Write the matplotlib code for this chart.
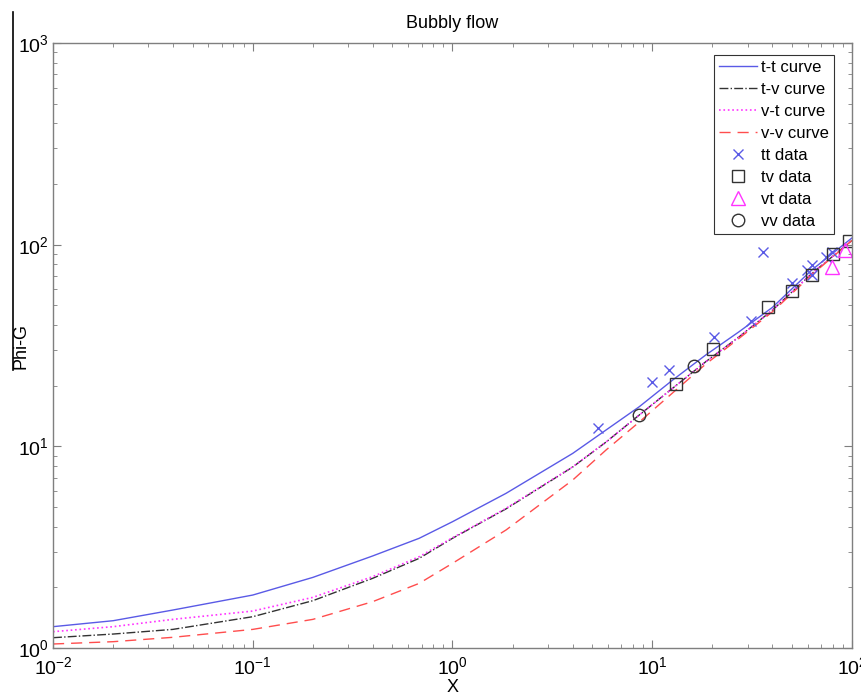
import matplotlib
matplotlib.use("Agg")
import matplotlib.pyplot as plt
from matplotlib.lines import Line2D

plt.rcParams["font.family"] = ["Liberation Sans", "DejaVu Sans"]
plt.rcParams["mathtext.fontset"] = "custom"
plt.rcParams["mathtext.rm"] = "Liberation Sans"

# Curves (X vs Phi-G)
x_curve = [0.01, 0.02, 0.0398, 0.1, 0.2, 0.398, 0.681, 1.0, 1.855, 4.0, 5.87,
           8.61, 12.64, 18.55, 27.2, 40.0, 63.0, 100.0]
y_tt = [1.276, 1.366, 1.543, 1.831, 2.24, 2.86, 3.50, 4.23, 5.85, 9.23, 12.05,
        15.72, 21.3, 28.4, 37.0, 48.9, 75.0, 108.0]
y_tv = [1.125, 1.173, 1.237, 1.43, 1.717, 2.215, 2.784, 3.50, 4.90, 7.90, 10.5,
        14.3, 19.4, 26.3, 34.9, 47.4, 72.0, 105.0]
y_vt = [1.205, 1.276, 1.387, 1.525, 1.783, 2.258, 2.837, 3.52, 4.93, 7.92, 10.5,
        14.3, 19.4, 26.3, 34.9, 47.4, 72.0, 105.0]
y_vv = [1.047, 1.075, 1.13, 1.237, 1.387, 1.697, 2.092, 2.63, 3.85, 6.81, 9.59,
        13.2, 18.4, 25.6, 34.3, 46.5, 71.0, 105.0]

# Measured points
xd_tt = [5.33, 10.0, 12.1, 20.4, 31.2, 36.0, 50.3, 59.8, 62.9, 62.9, 73.9, 79.1]
yd_tt = [12.4, 20.9, 23.9, 34.9, 42.0, 92.2, 64.3, 74.8, 79.2, 70.7, 87.1, 92.2]

xd_tv = [13.1, 20.2, 38.1, 49.9, 62.9, 80.4, 96.6]
yd_tv = [20.4, 30.4, 49.2, 58.9, 70.7, 89.5, 104.6]

xd_vt = [79.1, 92.2]
yd_vt = [77.7, 94.0]

xd_vv = [8.54, 16.2]
yd_vv = [14.3, 25.1]

blue = "#5a5ae6"
magenta = "#ff33ff"
red = "#ff4d4d"
dark = "#333333"

fig = plt.figure(figsize=(8.61, 6.95), dpi=100)
ax = fig.add_axes([0.0616, 0.0676, 0.9279, 0.8705])

ax.plot(x_curve, y_tt, "-", color=blue, lw=1.0, label="t-t curve")
ax.plot(x_curve, y_tv, "-.", color=dark, lw=1.0, label="t-v curve")
ax.plot(x_curve, y_vt, ":", color=magenta, lw=1.2, label="v-t curve")
ax.plot(x_curve, y_vv, "--", color=red, lw=1.0, dashes=(8, 5), label="v-v curve")

ax.plot(xd_tt, yd_tt, "x", color=blue, ms=7, mew=1.0, ls="none", label="tt data")
ax.plot(xd_tv, yd_tv, "s", mfc="none", mec=dark, ms=8, mew=1.0, ls="none", label="tv data")
ax.plot(xd_vt, yd_vt, "^", mfc="none", mec=magenta, ms=10, mew=1.0, ls="none", label="vt data")
ax.plot(xd_vv, yd_vv, "o", mfc="none", mec=dark, ms=9, mew=1.0, ls="none", label="vv data")

ax.set_xscale("log")
ax.set_yscale("log")
ax.set_xlim(1e-2, 1e2)
ax.set_ylim(1e0, 1e3)

for s in ax.spines.values():
    s.set_color("#7f7f7f")
    s.set_linewidth(1.0)
ax.tick_params(which="both", direction="in", top=True, right=True,
               colors="#7f7f7f", labelcolor="black", labelsize=14)
ax.tick_params(which="major", length=6)
ax.tick_params(which="minor", length=3)
ax.tick_params(axis="x", which="major", pad=6)
ax.tick_params(axis="y", which="major", pad=3)

ax.set_title("Bubbly flow", fontsize=13, pad=11)
ax.set_xlabel("X", fontsize=13)
ax.set_ylabel("Phi-G", fontsize=13)
ax.xaxis.set_label_coords(0.5, -0.052)
ax.yaxis.set_label_coords(-0.029, 0.5)

leg = ax.legend(loc="upper right", bbox_to_anchor=(0.9775, 0.981), fontsize=12,
                frameon=True, fancybox=False, edgecolor="black",
                handlelength=2.3, handletextpad=0.25, labelspacing=0.42,
                borderpad=0.3, borderaxespad=0)
leg.get_frame().set_linewidth(0.8)

# stray vertical rule on the left margin
fig.add_artist(Line2D([13 / 861, 13 / 861], [1 - 12 / 695, 1 - 370 / 695],
                      color="black", lw=1.2))

fig.savefig("out.png", dpi=100)
